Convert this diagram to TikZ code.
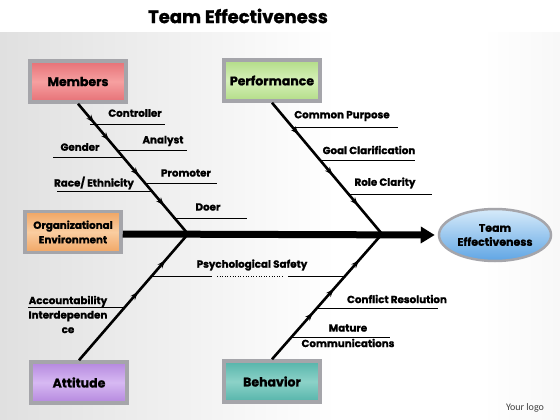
\documentclass[tikz,border=0pt]{standalone}
\usepackage{fontspec}
\setmainfont{Poppins}[BoldFeatures={FakeBold=1.2}]
\newfontfamily\logofont{Carlito}
\usetikzlibrary{arrows.meta,decorations.markings,shapes.geometric,calc}
\definecolor{memc}{RGB}{230,112,118}
\definecolor{memh}{RGB}{246,160,160}
\definecolor{perc}{RGB}{178,220,135}
\definecolor{perh}{RGB}{214,240,185}
\definecolor{orgc}{RGB}{240,165,100}
\definecolor{orgh}{RGB}{250,205,160}
\definecolor{attc}{RGB}{180,135,222}
\definecolor{atth}{RGB}{215,185,242}
\definecolor{behc}{RGB}{85,180,170}
\definecolor{behh}{RGB}{140,210,200}
\definecolor{tec}{RGB}{95,165,228}
\definecolor{teh}{RGB}{215,235,250}
\definecolor{frame}{RGB}{165,165,170}
\definecolor{bgl}{RGB}{198,198,198}
\definecolor{bgr}{RGB}{222,222,222}
\pgfdeclarehorizontalshading{bgsh}{100bp}{color(0bp)=(bgl); color(55bp)=(white); color(68bp)=(white); color(100bp)=(bgr)}
\begin{document}
\begin{tikzpicture}[x=1pt,y=-1pt,
  lbl/.style={font=\bfseries\fontsize{10.3}{12}\selectfont, inner sep=0pt},
  branch/.style={line width=0.8pt},
  bone/.style={line width=2.6pt, postaction={decorate}},
  catbox/.style={minimum width=96pt, minimum height=41pt, draw=frame, line width=3.5pt,
     font=\bfseries\fontsize{12.5}{14}\selectfont, inner sep=0pt, align=center},
  spine/.style={line width=7pt, -{Triangle[length=14pt,width=16pt]}},
  tick/.style={-{Stealth[length=8pt,width=6pt]}},
]
% background
\fill[white] (0,0) rectangle (560,420);
\shade[shading=bgsh] (0,33) rectangle (560,420);
\useasboundingbox (0,0) rectangle (560,420);

% title
\node[font=\bfseries\fontsize{18}{20}\selectfont] (title) at (238,16) {Team Effectiveness};

% category boxes
\node[catbox, top color=memc, bottom color=memc, middle color=memh] (mem) at (78,81.5) {Members};
\node[catbox, top color=perc, bottom color=perc, middle color=perh] (perf) at (272,80.5) {Performance};
\node[catbox, top color=orgc, bottom color=orgc, middle color=orgh, font=\bfseries\fontsize{10.3}{14.5}\selectfont] (org) at (73,232) {Organizational\\Environment};
\node[catbox, top color=attc, bottom color=attc, middle color=atth] (att) at (79,382.5) {Attitude};
\node[catbox, top color=behc, bottom color=behc, middle color=behh] (beh) at (272,381.5) {Behavior};

% effect
\node[ellipse, minimum width=112pt, minimum height=52pt, draw=frame, line width=2.5pt,
      top color=teh, bottom color=tec, inner sep=0pt, align=center,
      font=\bfseries\fontsize{11}{14}\selectfont] (te) at (495,235) {Team\\Effectiveness};

% junctions
\coordinate (j1) at (188,234);
\coordinate (j2) at (382,234);

% bones
\draw[bone, decoration={markings,
   mark=at position 0.145 with {\arrow{Stealth[length=8pt,width=6pt]}},
   mark=at position 0.28 with {\arrow{Stealth[length=8pt,width=6pt]}},
   mark=at position 0.55 with {\arrow{Stealth[length=8pt,width=6pt]}},
   mark=at position 0.78 with {\arrow{Stealth[length=8pt,width=6pt]}}}]
   (mem.south) -- (j1);
\draw[bone, decoration={markings,
   mark=at position 0.24 with {\arrow{Stealth[length=8pt,width=6pt]}},
   mark=at position 0.55 with {\arrow{Stealth[length=8pt,width=6pt]}},
   mark=at position 0.78 with {\arrow{Stealth[length=8pt,width=6pt]}}}]
   (perf.south) -- (j2);
\draw[bone, decoration={markings,
   mark=at position 0.54 with {\arrow{Stealth[length=8pt,width=6pt]}},
   mark=at position 0.79 with {\arrow{Stealth[length=8pt,width=6pt]}}}]
   (att.north) -- (j1);
\draw[bone, decoration={markings,
   mark=at position 0.37 with {\arrow{Stealth[length=8pt,width=6pt]}},
   mark=at position 0.56 with {\arrow{Stealth[length=8pt,width=6pt]}},
   mark=at position 0.79 with {\arrow{Stealth[length=8pt,width=6pt]}}}]
   (beh.north) -- (j2);

% spine
\draw[spine] (org.east |- j1) -- ([xshift=-3pt]te.west);

% branch lines
\draw[branch] (90,124) -- (165,124);
\draw[branch] (118,150) -- (187,150);
\draw[branch] (53,157) -- (123,157);
\draw[branch] (147,183) -- (217,183);
\draw[branch] (57,191) -- (152,191);
\draw[branch] (173,218) -- (247,218);
\draw[branch] (292,127) -- (398,127);
\draw[branch] (321,160) -- (415,160);
\draw[branch] (348,194) -- (432,194);
\draw[branch] (152,276) -- (212,276);
\draw[line width=0.6pt, dotted] (217,276) -- (283,276);
\draw[branch] (288,276) -- (345,276);
\draw[branch] (28,307) -- (124,307);
\draw[branch] (317,308) -- (438,308);
\draw[branch] (292,337) -- (390,337);

% labels
\node[lbl] (l1) at (135,113) {Controller};
\node[lbl] (l2) at (163,141) {Analyst};
\node[lbl] (l3) at (80,147) {Gender};
\node[lbl] (l4) at (186,173) {Promoter};
\node[lbl] (l5) at (94,183) {Race/ Ethnicity};
\node[lbl] (l6) at (208,207) {Doer};
\node[lbl] (l7) at (342,116) {Common Purpose};
\node[lbl] (l8) at (369,150) {Goal Clarification};
\node[lbl] (l9) at (385,183) {Role Clarity};
\node[lbl] (l10) at (252,265) {Psychological Safety};
\node[lbl, align=center, font=\bfseries\fontsize{10.3}{14.5}\selectfont] (l11) at (68,314.5) {Accountability\\Interdependen\\ce};
\node[lbl] (l12) at (397,299) {Conflict Resolution};
\node[lbl] (l13) at (348,328) {Mature};
\node[lbl] (l14) at (348,343) {Communications};
\node[font=\logofont\fontsize{10}{12}\selectfont, text=black!75, inner sep=0pt] (logo) at (525,408) {Your logo};
\end{tikzpicture}
\end{document}
